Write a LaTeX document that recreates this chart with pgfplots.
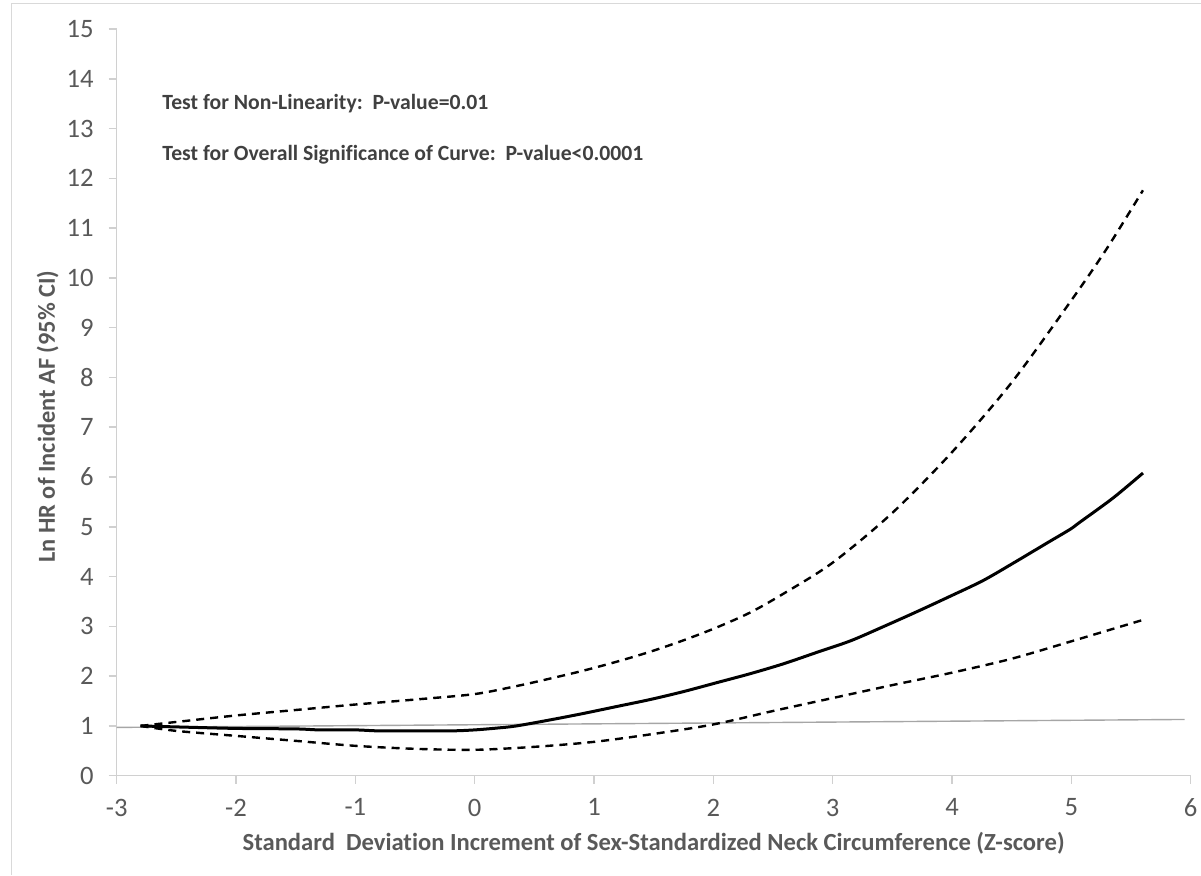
\documentclass[border=0pt]{standalone}
\usepackage{fontspec}
\setmainfont[Ligatures=CommonOff]{Carlito}
\usepackage{pgfplots}
\pgfplotsset{compat=1.18}
\usepackage{pgfplotstable}
\definecolor{txt}{HTML}{595959}
\definecolor{ann}{HTML}{404040}
\definecolor{axl}{HTML}{D0D0D0}
\definecolor{refl}{HTML}{A6A6A6}
\definecolor{frm}{HTML}{D9D9D9}

\pgfplotstableread{
x y
-2.80 1.00
-2.50 0.98
-2.00 0.95
-1.50 0.94
-1.30 0.92
-1.00 0.92
-0.80 0.90
-0.50 0.90
-0.20 0.90
0.00 0.92
0.20 0.96
0.35 1.00
0.63 1.12
0.91 1.25
1.19 1.39
1.47 1.53
1.75 1.69
2.03 1.87
2.31 2.05
2.59 2.25
2.87 2.48
3.15 2.71
3.43 3.00
3.71 3.30
3.98 3.60
4.26 3.92
4.52 4.28
4.80 4.68
4.99 4.95
5.07 5.09
5.35 5.58
5.60 6.08
}\estdata

\pgfplotstableread{
x y
-2.80 1.00
-2.50 1.08
-2.00 1.21
-1.50 1.32
-1.00 1.43
-0.50 1.53
0.00 1.64
0.35 1.80
0.63 1.95
0.91 2.11
1.19 2.29
1.47 2.49
1.75 2.72
2.03 2.98
2.31 3.28
2.59 3.66
3.00 4.28
3.50 5.28
4.00 6.50
4.50 7.90
5.00 9.55
5.30 10.60
5.60 11.76
}\upperdata

\pgfplotstableread{
x y
-2.80 1.00
-2.50 0.90
-2.00 0.80
-1.50 0.70
-1.00 0.60
-0.50 0.54
0.00 0.52
0.50 0.58
1.00 0.68
1.50 0.84
2.00 1.03
2.50 1.30
3.00 1.56
3.50 1.82
4.00 2.07
4.50 2.35
5.00 2.70
5.60 3.13
}\lowerdata

\pgfplotstableread{
x y
-3.00 0.97
5.95 1.13
}\refdata

\begin{document}
\begin{tikzpicture}
\useasboundingbox (0,0) rectangle (600.5pt,437.5pt);
\draw[frm, line width=0.5pt] (5.85pt,0) -- (5.85pt,435.85pt) -- (600.5pt,435.85pt);
\begin{axis}[
  at={(58.35pt,49.65pt)}, anchor=south west,
  scale only axis, width=537pt, height=373.35pt,
  xmin=-3, xmax=6, ymin=0, ymax=15,
  xtick={-3,...,6}, ytick={0,...,15},
  axis x line=bottom, axis y line=left,
  axis line style={axl, line width=0.75pt, -},
  tick style={axl, line width=0.75pt},
  tick align=outside, major tick length=4pt,
  /pgf/number format/assume math mode=true,
  ticklabel style={font=\fontsize{13.3}{15}\selectfont, text=txt},
  yticklabel style={xshift=-4pt},
  xticklabel style={yshift=-4pt},
  xlabel={Standard\ \ Deviation Increment of Sex-Standardized Neck Circumference (Z-score)},
  ylabel={Ln HR of Incident AF (95\% CI)},
  every axis x label/.style={at={(axis description cs:0.5,-0.0995)}, anchor=base, font=\bfseries\fontsize{12.3}{14}\selectfont, text=txt},
  every axis y label/.style={at={(axis description cs:-0.0642,0.481)}, rotate=90, anchor=center, font=\bfseries\fontsize{12.2}{14}\selectfont, text=txt},
  clip=false,
]
\addplot[refl, line width=0.7pt] table[x=x,y=y] {\refdata};
\addplot[black, line width=1.2pt, dash pattern=on 4pt off 3pt, smooth] table[x=x,y=y] {\upperdata};
\addplot[black, line width=1.2pt, dash pattern=on 4pt off 3pt, smooth] table[x=x,y=y] {\lowerdata};
\addplot[black, line width=1.5pt, smooth] table[x=x,y=y] {\estdata};
\node[anchor=base west, font=\bfseries\fontsize{10.85}{12}\selectfont, text=ann, inner sep=0pt] at (axis cs:-2.62,13.39) {Test for Non-Linearity:\ \ P-value=0.01};
\node[anchor=base west, font=\bfseries\fontsize{10.85}{12}\selectfont, text=ann, inner sep=0pt] at (axis cs:-2.62,12.36) {Test for Overall Significance of Curve:\ \ P-value<0.0001};
\end{axis}
\end{tikzpicture}
\end{document}
